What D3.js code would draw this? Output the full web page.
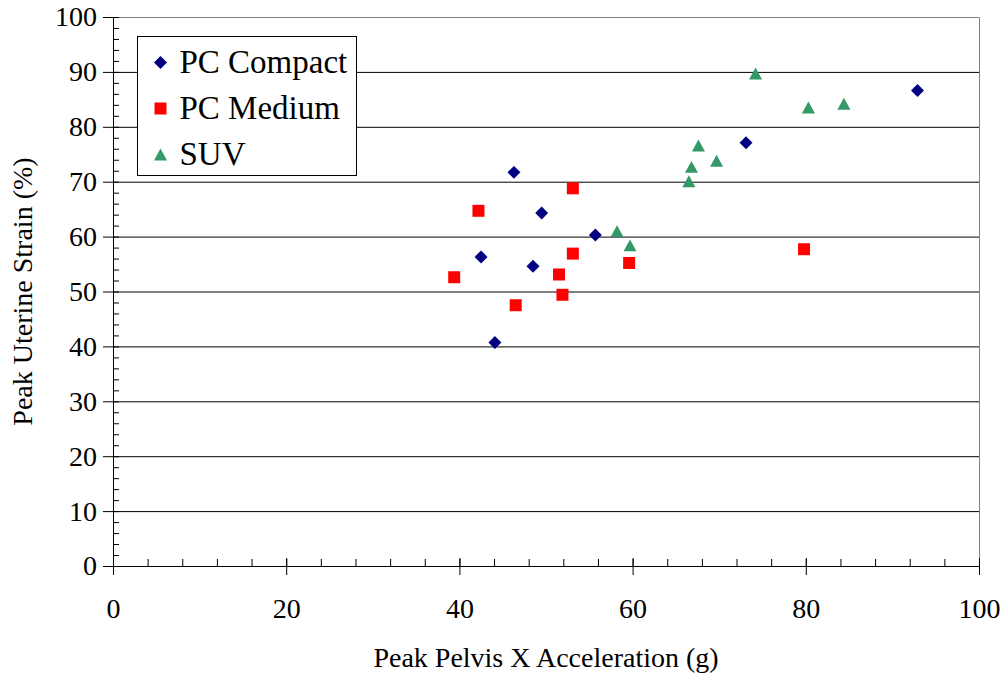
<!DOCTYPE html>
<html>
<head>
<meta charset="utf-8">
<script src="https://cdn.jsdelivr.net/npm/d3@7"></script>
<style>
    body { margin: 0; background: #fff; }
    text { font-family: "Liberation Serif", "Times New Roman", serif; fill: #000; }
</style>
</head>
<body>
<div id="root"></div>
<script>
// series names (legend order)
const seriesNames = ['PC Compact', 'PC Medium', 'SUV'];

// PC Compact
const compactX = [44.1, 42.5, 46.3, 48.5, 49.5, 55.7, 73.1, 92.9];
const compactY = [40.7, 56.3, 71.7, 54.6, 64.3, 60.3, 77.1, 86.6];

// PC Medium
const mediumX = [39.4, 42.2, 46.5, 51.5, 51.9, 53.1, 53.1, 59.6, 79.8];
const mediumY = [52.6, 64.7, 47.5, 53.1, 49.4, 56.9, 68.8, 55.2, 57.7];

// SUV
const suvX = [58.2, 59.7, 66.5, 66.8, 67.6, 69.7, 74.2, 80.3, 84.4];
const suvY = [61.0, 58.4, 70.1, 72.7, 76.6, 73.8, 89.7, 83.5, 84.2];

// axis ticks
const xTicks = [0, 20, 40, 60, 80, 100];
const yTicks = [0, 10, 20, 30, 40, 50, 60, 70, 80, 90, 100];

const width = 1007;
const height = 675;
const margin = { top: 17, right: 28, bottom: 109, left: 113 };

// excel style triangle, centred on its box rather than its centroid
const triangleExcel = {
    draw(context, size) {
        const w = Math.sqrt(size);
        const h = w * 0.92;
        context.moveTo(0, -h / 2);
        context.lineTo(w / 2, h / 2);
        context.lineTo(-w / 2, h / 2);
        context.closePath();
    }
};

const series = [
    { name: seriesNames[0], xs: compactX, ys: compactY, color: '#000080', type: d3.symbolSquare, size: 84, rotate: 45 },
    { name: seriesNames[1], xs: mediumX, ys: mediumY, color: '#ff0000', type: d3.symbolSquare, size: 144, rotate: 0 },
    { name: seriesNames[2], xs: suvX, ys: suvY, color: '#339966', type: triangleExcel, size: 169, rotate: 0 }
];

const svg = d3.select('#root')
    .append('svg')
    .attr('width', width)
    .attr('height', height);

const chartWidth = width - margin.left - margin.right;
const chartHeight = height - margin.top - margin.bottom;

const chart = svg.append('g')
    .attr('transform', `translate(${margin.left},${margin.top})`);

const xScale = d3.scaleLinear().domain([0, 100]).range([0, chartWidth]);
const yScale = d3.scaleLinear().domain([0, 100]).range([chartHeight, 0]);

// gridlines
chart.append('g')
    .classed('gridline', true)
    .call(d3.axisLeft(yScale).tickValues(yTicks.slice(1, -1)).tickSize(-chartWidth).tickFormat(''))
    .call(g => g.select('.domain').remove())
    .call(g => g.selectAll('line').attr('stroke', '#000'));

// plot border top / right
chart.append('path')
    .attr('d', `M0.5,0.5H${chartWidth + 0.5}V${chartHeight + 0.5}`)
    .attr('fill', 'none')
    .attr('stroke', '#808080');

// minor ticks (inside)
chart.append('g')
    .call(d3.axisRight(yScale).tickValues(d3.range(0, 101, 2)).tickSize(6).tickFormat(''))
    .call(g => g.select('.domain').remove());

chart.append('g')
    .attr('transform', `translate(0,${chartHeight})`)
    .call(d3.axisTop(xScale).tickValues(d3.range(0, 101, 4)).tickSize(7).tickFormat(''))
    .call(g => g.select('.domain').remove());

// major axes
const yAxis = chart.append('g')
    .call(d3.axisLeft(yScale).tickValues(yTicks).tickSize(10).tickPadding(6).tickSizeOuter(0));
yAxis.selectAll('text').style('font-size', '28px');

const xAxis = chart.append('g')
    .attr('transform', `translate(0,${chartHeight})`)
    .call(d3.axisBottom(xScale).tickValues(xTicks).tickSize(9).tickPadding(23).tickSizeOuter(0));
xAxis.selectAll('text').style('font-size', '28px');
xAxis.selectAll('.tick line').attr('y1', -8);

// axis titles
chart.append('text')
    .attr('x', chartWidth / 2)
    .attr('y', chartHeight + 101)
    .attr('text-anchor', 'middle')
    .style('font-size', '28px')
    .text('Peak Pelvis X Acceleration (g)');

svg.append('text')
    .attr('transform', `translate(32,${margin.top + chartHeight / 2}) rotate(-90)`)
    .attr('text-anchor', 'middle')
    .style('font-size', '28px')
    .text('Peak Uterine Strain (%)');

// points
series.forEach(s => {
    const sym = d3.symbol().type(s.type).size(s.size);
    chart.append('g')
        .selectAll('path')
        .data(s.xs.map((x, i) => ({ x: x, y: s.ys[i] })))
        .enter()
        .append('path')
        .attr('d', sym)
        .attr('transform', d => `translate(${xScale(d.x)},${yScale(d.y)}) rotate(${s.rotate})`)
        .attr('fill', s.color);
});

// legend
const legend = svg.append('g')
    .attr('transform', 'translate(137.5,36.5)');

legend.append('rect')
    .attr('width', 219)
    .attr('height', 139)
    .attr('fill', '#fff')
    .attr('stroke', '#000');

series.forEach((s, i) => {
    const row = legend.append('g')
        .attr('transform', `translate(0,${26 + i * 46})`);
    row.append('path')
        .attr('d', d3.symbol().type(s.type).size(s.size)())
        .attr('transform', `translate(23,0) rotate(${s.rotate})`)
        .attr('fill', s.color);
    row.append('text')
        .attr('x', 42)
        .attr('y', 10.5)
        .style('font-size', '33px')
        .text(s.name);
});
</script>
</body>
</html>
